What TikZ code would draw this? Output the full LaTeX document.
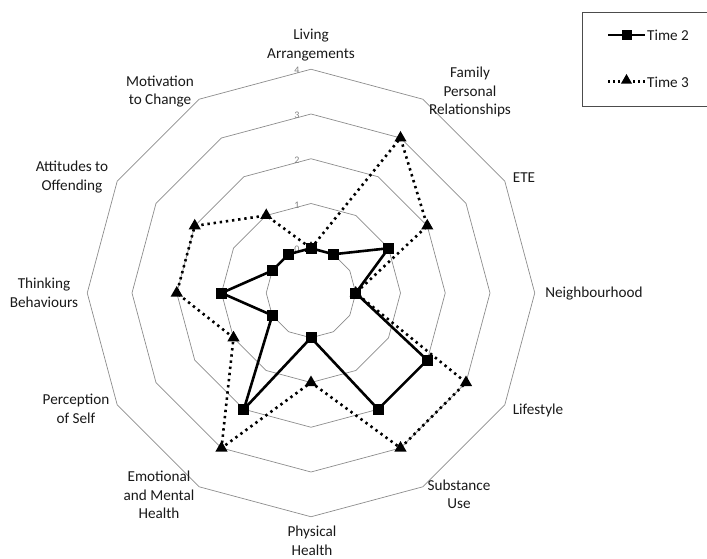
\documentclass[tikz,border=0pt]{standalone}
\usepackage{fontspec}
\setmainfont{Carlito}
\usetikzlibrary{shapes.geometric}

\begin{document}
\begin{tikzpicture}[x=1pt,y=-1pt,
  ring/.style={draw=black!45, line width=0.7pt},
  cat/.style={font=\fontsize{15.2}{18.5}\selectfont, align=center, text=black!90, inner sep=0pt},
  tick/.style={font=\fontsize{10}{11}\selectfont, text=black!50, inner sep=0pt},
  seriesA/.style={line width=2.6pt, line join=miter, draw=black},
  seriesB/.style={line width=2.6pt, draw=black, dash pattern=on 2.4pt off 3.8pt},
  sqmark/.style={rectangle, fill=black, minimum size=11pt, inner sep=0pt},
  trimark/.style={regular polygon, regular polygon sides=3, fill=black, minimum size=14pt, inner sep=0pt},
  legbox/.style={draw=black!70, line width=0.8pt},
]
\useasboundingbox (0,0) rectangle (707,559);

% grid rings (values 0..4, the centre stands for -1)
\begin{scope}[shift={(311,293)}]
  \foreach \v in {0,...,4}{
    \pgfmathsetmacro{\rr}{(\v+1)*44.75}
    \draw[ring] (-90:\rr) \foreach \k in {1,...,11}{ -- ({30*\k-90}:\rr) } -- cycle;
    \node[tick] (t\v) at (-14,{-\rr+1.5}) {\v};
  }

  % Time 3 values, then Time 2 values, clockwise from the top
  \foreach \val [count=\k from 0] in {0,3,2,0,3,3,1,3,1,2,2,1}{
    \coordinate (b\k) at ({30*\k-90}:{(\val+1)*44.75});
  }
  \foreach \val [count=\k from 0] in {0,0,1,0,2,2,0,2,0,1,0,0}{
    \coordinate (a\k) at ({30*\k-90}:{(\val+1)*44.75});
  }

  % Time 3 series
  \draw[seriesB] (b0) -- (b1) -- (b2) -- (b3) -- (b4) -- (b5) -- (b6)
                 -- (b7) -- (b8) -- (b9) -- (b10) -- (b11) -- cycle;
  \foreach \k in {0,...,11}{ \node[trimark] (mb\k) at (b\k) {}; }

  % Time 2 series
  \draw[seriesA] (a0) -- (a1) -- (a2) -- (a3) -- (a4) -- (a5) -- (a6)
                 -- (a7) -- (a8) -- (a9) -- (a10) -- (a11) -- cycle;
  \foreach \k in {0,...,11}{ \node[sqmark] (ma\k) at (a\k) {}; }
\end{scope}

% category labels
\node[cat] (c0)  at (311,45)    {Living\\Arrangements};
\node[cat] (c1)  at (470,92)    {Family\\Personal\\Relationships};
\node[cat] (c2)  at (524,178)   {ETE};
\node[cat] (c3)  at (594,294)   {Neighbourhood};
\node[cat] (c4)  at (538,410)   {Lifestyle};
\node[cat] (c5)  at (459,494.5) {Substance\\Use};
\node[cat] (c6)  at (312,541)   {Physical\\Health};
\node[cat] (c7)  at (159,495)   {Emotional\\and Mental\\Health};
\node[cat] (c8)  at (76,409)    {Perception\\of Self};
\node[cat] (c9)  at (44,293)    {Thinking\\Behaviours};
\node[cat] (c10) at (72,177)    {Attitudes to\\Offending};
\node[cat] (c11) at (160,91.5)  {Motivation\\to Change};

% legend
\draw[legbox] (720,12.7) -- (582,12.7) -- (582,106) -- (720,106);
\coordinate (l2a) at (608,35);
\coordinate (l2b) at (645,35);
\coordinate (l3a) at (608,81.5);
\coordinate (l3b) at (645,81.5);
\draw[seriesA, line width=2.2pt] (l2a) -- (l2b);
\node[sqmark, minimum size=10pt] (lm2) at (626.5,35) {};
\draw[seriesB, line width=2.2pt, dash pattern=on 2pt off 3pt] (l3a) -- (l3b);
\node[trimark, minimum size=13pt] (lm3) at (626.5,80.5) {};
\node[cat, anchor=west] (lt2) at (647,35.5) {Time 2};
\node[cat, anchor=west] (lt3) at (647,82) {Time 3};
\end{tikzpicture}
\end{document}
